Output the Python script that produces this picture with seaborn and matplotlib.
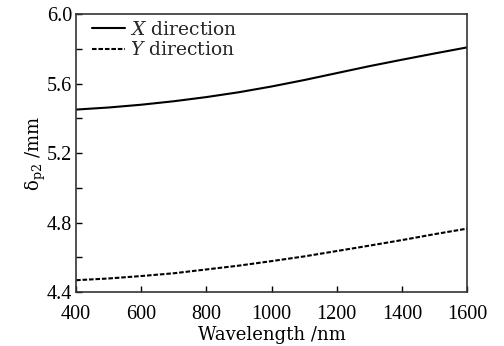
import numpy as np
import pandas as pd
import seaborn as sns
import matplotlib
matplotlib.use("Agg")
import matplotlib.pyplot as plt
from matplotlib.ticker import MultipleLocator, FormatStrFormatter

wavelength = [400, 500, 600, 700, 800, 900, 1000, 1100, 1200, 1300, 1400, 1500, 1600]
x_direction = [5.450, 5.462, 5.478, 5.498, 5.522, 5.550, 5.583, 5.620, 5.660, 5.700, 5.737, 5.773, 5.808]
y_direction = [4.468, 4.478, 4.492, 4.508, 4.530, 4.552, 4.578, 4.605, 4.636, 4.667, 4.699, 4.733, 4.765]
series_labels = ["$X$ direction", "$Y$ direction"]

sns.set_theme(style="white")
plt.rcParams["font.family"] = ["DejaVu Serif"]
plt.rcParams["mathtext.fontset"] = "dejavuserif"

df_x = pd.DataFrame({"wl": wavelength, "val": x_direction})
df_y = pd.DataFrame({"wl": wavelength, "val": y_direction})

fig = plt.figure(figsize=(5.04, 3.46), dpi=100)
ax = fig.add_axes([0.151, 0.156, 0.776, 0.8035])

sns.lineplot(data=df_x, x="wl", y="val", ax=ax, color="black", linewidth=1.5,
             label=series_labels[0])
sns.lineplot(data=df_y, x="wl", y="val", ax=ax, color="black", linewidth=1.5,
             linestyle=(0, (2.2, 0.9)), label=series_labels[1])

ax.set_xlim(400, 1600)
ax.set_ylim(4.4, 6.0)
ax.xaxis.set_major_locator(MultipleLocator(200))
ax.yaxis.set_major_locator(MultipleLocator(0.4))
ax.yaxis.set_minor_locator(MultipleLocator(0.2))
ax.yaxis.set_major_formatter(FormatStrFormatter("%.1f"))
ax.tick_params(axis="both", which="both", direction="in", length=4, width=1,
               color="black", top=False, right=False,
               bottom=True, left=True, labelcolor="black")
ax.tick_params(axis="x", which="minor", bottom=False)
ax.tick_params(axis="x", pad=9)
ax.tick_params(axis="y", pad=3)
for lab in ax.get_xticklabels() + ax.get_yticklabels():
    lab.set_fontfamily("Liberation Serif")
    lab.set_fontsize(14.5)

for sp in ax.spines.values():
    sp.set_color("#333333")
    sp.set_linewidth(1.2)

ax.set_xlabel("Wavelength /nm", fontsize=13, labelpad=2, color="black")
ax.set_ylabel(r"δ$_{\rm p2}$ /mm", fontsize=13, labelpad=-1, color="black")

leg = ax.legend(loc="upper left", bbox_to_anchor=(0.023, 1.0), frameon=False,
                fontsize=13.5, handlelength=1.76, handletextpad=0.3,
                borderaxespad=0.15, labelspacing=0.15, borderpad=0.2)

fig.savefig("out.png", dpi=100, facecolor="white")
